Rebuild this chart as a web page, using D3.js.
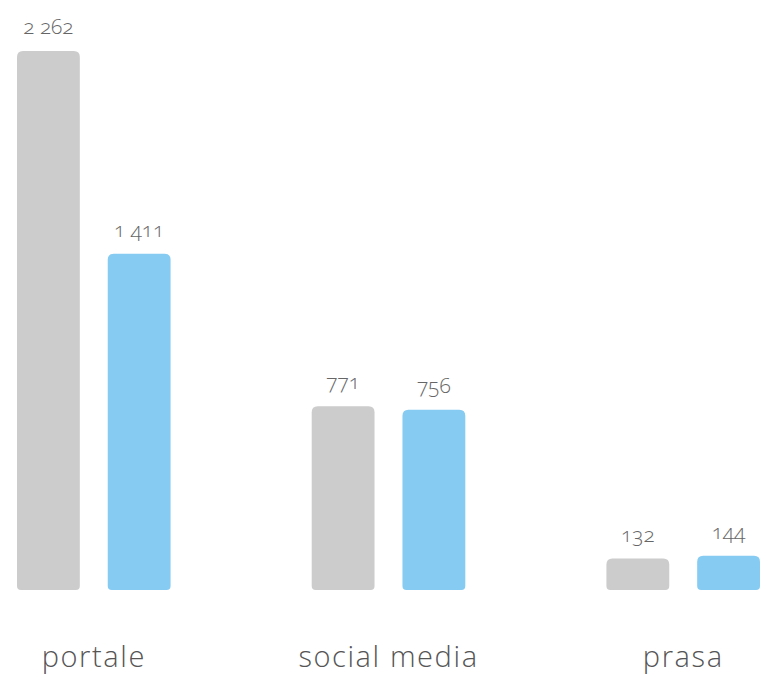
<!DOCTYPE html>
<html lang="pl">
<head>
  <meta charset="UTF-8">
  <title>portale / social media / prasa</title>
  <style>
    body{ margin: 0; background: #fff; }
    .value{
      font-family: "Open Sans", sans-serif;
      font-weight: 300;
      font-size: 21px;
      fill: #666;
      font-feature-settings: "onum";
      font-variant-numeric: oldstyle-nums;
    }
    .cat{
      font-family: "Open Sans", sans-serif;
      font-weight: 300;
      font-size: 29px;
      letter-spacing: 1.6px;
      fill: #555;
    }
  </style>
</head>
<body>
  <script src="https://cdn.jsdelivr.net/npm/d3@7"></script>
  <script>
    const categories = ['portale', 'social media', 'prasa'];
    const series = ['a', 'b'];
    const valuesA = [2262, 771, 132];
    const valuesB = [1411, 756, 144];
    const colors = ['#cccccc', '#86cbf2'];

    const width = 760, height = 675;
    const baseY = 590, topY = 51;

    const svg = d3.select('body').append('svg')
      .attr('width', width)
      .attr('height', height);

    const x0 = d3.scaleBand().domain(categories).range([17, 760])
      .paddingInner(0.4789).paddingOuter(0);
    const x1 = d3.scaleBand().domain(series).range([0, x0.bandwidth()])
      .paddingInner(0.3077).paddingOuter(0);
    const y = d3.scaleLinear().domain([0, d3.max(valuesA.concat(valuesB))]).range([baseY, topY]);
    const fmt = d3.formatLocale({decimal: ',', thousands: ' ', grouping: [3], currency: ['', '']}).format(',d');

    const data = [];
    categories.forEach((c, i) => {
      data.push({cat: c, s: 'a', v: valuesA[i], color: colors[0]});
      data.push({cat: c, s: 'b', v: valuesB[i], color: colors[1]});
    });

    // bar with rounder top corners, slightly rounded bottom
    function barPath(x, yt, w, yb){
      const rt = 6, rb = 4;
      return `M${x},${yb - rb}` +
        `L${x},${yt + rt}Q${x},${yt} ${x + rt},${yt}` +
        `L${x + w - rt},${yt}Q${x + w},${yt} ${x + w},${yt + rt}` +
        `L${x + w},${yb - rb}Q${x + w},${yb} ${x + w - rb},${yb}` +
        `L${x + rb},${yb}Q${x},${yb} ${x},${yb - rb}Z`;
    }

    const g = svg.append('g');
    g.selectAll('path.bar').data(data).join('path')
      .attr('class', 'bar')
      .attr('fill', d => d.color)
      .attr('d', d => barPath(x0(d.cat) + x1(d.s), y(d.v), x1.bandwidth(), y(0)));

    g.selectAll('text.value').data(data).join('text')
      .attr('class', 'value')
      .attr('text-anchor', 'middle')
      .attr('x', d => x0(d.cat) + x1(d.s) + x1.bandwidth() / 2)
      .attr('y', d => y(d.v) - 17)
      .text(d => fmt(d.v));

    g.selectAll('text.cat').data(categories).join('text')
      .attr('class', 'cat')
      .attr('text-anchor', 'middle')
      .attr('x', d => x0(d) + x0.bandwidth() / 2)
      .attr('y', 667)
      .text(d => d);
  </script>
</body>
</html>
